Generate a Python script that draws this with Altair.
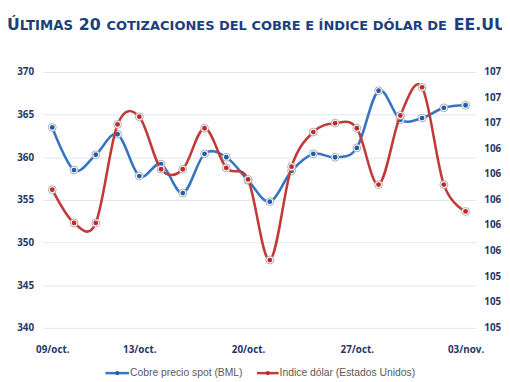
import altair as alt
import pandas as pd

# ---- data ----
idx = list(range(20))
cobre = [363.5, 358.5, 360.3, 362.7, 357.8, 359.2, 355.8, 360.4, 360.0, 357.3,
         354.8, 358.4, 360.4, 360.0, 361.1, 367.8, 364.4, 364.6, 365.8, 366.1]
dolar = [106.48, 106.22, 106.22, 106.99, 107.05, 106.64, 106.64, 106.96, 106.65, 106.56,
         105.93, 106.66, 106.93, 107.00, 106.96, 106.52, 107.06, 107.28, 106.52, 106.31]
tick_pos = [0, 4, 9, 14, 19]
tick_labels = ["09/oct.", "13/oct.", "20/oct.", "27/oct.", "03/nov."]
left_ticks = [340, 345, 350, 355, 360, 365, 370]
right_ticks = [105.4, 105.6, 105.8, 106.0, 106.2, 106.4, 106.6, 106.8, 107.0, 107.2, 107.4]
series_names = ["Cobre precio spot (BML)", "Indice dólar (Estados Unidos)"]
title_parts = ["Ú", "LTIMAS", "20", "COTIZACIONES DEL COBRE E ÍNDICE DÓLAR DE", "EE.UU."]

df = pd.DataFrame({"idx": idx, "cobre": cobre, "dolar": dolar})
rt_df = pd.DataFrame({"dolar": right_ticks})

BLUE_LINE = "#3674c2"
BLUE_DOT = "#1f5db3"
RED_LINE = "#c23a36"
RED_DOT = "#c4262a"
NAVY = "#1f3864"
TITLE_C = "#1b3f7c"
W, H = 440, 260

label_expr = "[" + ",".join("'%s'" % t for t in tick_labels) + "][indexof([" + \
    ",".join(str(p) for p in tick_pos) + "], datum.value)]"

xenc = alt.X("idx:Q",
             scale=alt.Scale(domain=[-0.452, 19.452], nice=False, zero=False),
             axis=alt.Axis(values=tick_pos, labelExpr=label_expr, grid=False, domain=False,
                           ticks=False, title=None, labelFont="Open Sans", labelFontWeight="bold",
                           labelFontSize=10, labelColor=NAVY, labelPadding=17,
                           labelOverlap=False))

base = alt.Chart(df)

yl = alt.Y("cobre:Q", scale=alt.Scale(domain=[340, 370], nice=False, zero=False),
           axis=alt.Axis(values=left_ticks, title=None, domain=False, ticks=False,
                         gridColor="#dfe6ef", gridWidth=1, labelFont="Open Sans",
                         labelFontWeight="bold", labelFontSize=10, labelColor=NAVY,
                         labelPadding=9, orient="left", labelOverlap=False))
yr = alt.Y("dolar:Q", scale=alt.Scale(domain=[105.4, 107.4], nice=False, zero=False),
           axis=None)

blue_line = base.mark_line(interpolate="cardinal", color=BLUE_LINE, strokeWidth=2.6).encode(x=xenc, y=yl)
blue_ring = base.mark_point(filled=True, size=64, color="white", stroke="#9a9a9a",
                            strokeWidth=0.8, opacity=1).encode(x="idx:Q", y=yl)
blue_dot = base.mark_circle(size=24, color=BLUE_DOT, opacity=1).encode(x="idx:Q", y=yl)

red_line = base.mark_line(interpolate="cardinal", color=RED_LINE, strokeWidth=2.6).encode(x="idx:Q", y=yr)
red_ring = base.mark_point(filled=True, size=64, color="white", stroke="#9a9a9a",
                           strokeWidth=0.8, opacity=1).encode(x="idx:Q", y=yr)
red_dot = base.mark_circle(size=24, color=RED_DOT, opacity=1).encode(x="idx:Q", y=yr)
# right axis labels drawn through the dolar scale (every 0.2 step)
red_axis = alt.Chart(rt_df).mark_text(align="left", baseline="middle", font="Open Sans",
                                      fontWeight="bold", fontSize=10, color=NAVY).encode(
    x=alt.value(W + 9), y=yr,
    text=alt.Text("lab:N")).transform_calculate(lab="floor(datum.dolar + 0.000001)")

# ---- title (small caps imitation) ----
tdf = pd.DataFrame({"t": [0]})
t_x = [-36, -23, 37, 65, 418]
t_size = [16, 13.5, 16, 13.2, 16]
title_layers = []
for txt, xx, sz in zip(title_parts, t_x, t_size):
    title_layers.append(
        alt.Chart(tdf).mark_text(text=txt, align="left", baseline="alphabetic", font="DejaVu Sans",
                                 fontWeight="bold", fontSize=sz, color=TITLE_C)
        .encode(x=alt.value(xx), y=alt.value(-43)))

# ---- legend ----
ldf = pd.DataFrame({"t": [0]})
leg_y = 306
legend_layers = []
for name, x0, x1, lc, dc in [(series_names[0], 64, 88, BLUE_LINE, BLUE_DOT),
                             (series_names[1], 218, 240, RED_LINE, RED_DOT)]:
    legend_layers.append(alt.Chart(ldf).mark_rule(color=lc, strokeWidth=2.5)
                         .encode(x=alt.value(x0), x2=alt.value(x1), y=alt.value(leg_y)))
    legend_layers.append(alt.Chart(ldf).mark_circle(size=18, color=dc, opacity=1)
                         .encode(x=alt.value((x0 + x1) / 2), y=alt.value(leg_y)))
    legend_layers.append(alt.Chart(ldf).mark_text(text=name, align="left", baseline="middle",
                                                  font="Liberation Sans", fontSize=10.5,
                                                  color="#595959")
                         .encode(x=alt.value(x1 + 1), y=alt.value(leg_y)))

blue = alt.layer(blue_line, blue_ring, blue_dot, *title_layers, *legend_layers)
red = alt.layer(red_line, red_ring, red_dot, red_axis)

chart = alt.layer(blue, red).resolve_scale(y="independent").properties(
    width=W, height=H,
    padding={"left": 35, "top": 62, "right": 27, "bottom": 52},
    autosize=alt.AutoSizeParams(type="none"),
    background="white",
).configure_view(stroke=None)

chart.save("out.html", embed_options={"renderer": "svg", "actions": False})
